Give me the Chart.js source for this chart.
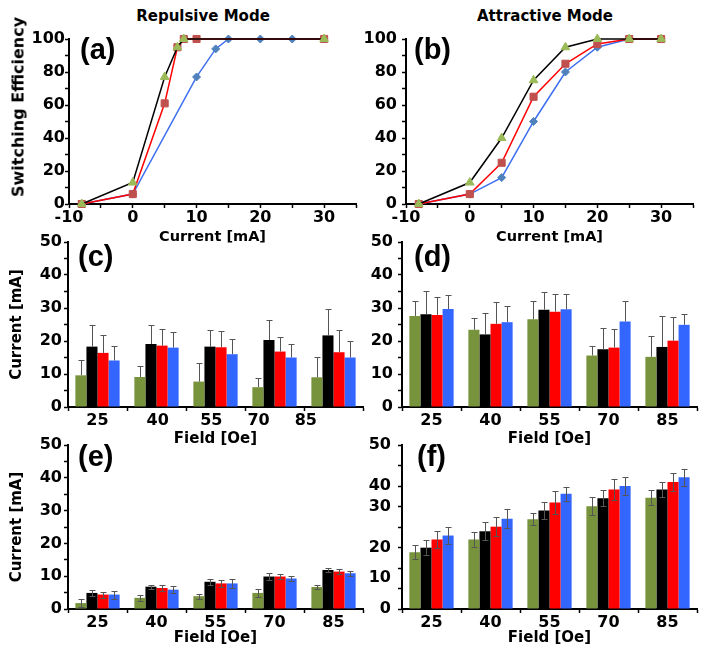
<!DOCTYPE html>
<html>
<head>
<meta charset="utf-8">
<script src="https://cdn.jsdelivr.net/npm/chart.js@4.4.1/dist/chart.umd.min.js"></script>
<style>
  body { margin: 0; background: #fff; width: 708px; height: 659px; position: relative; overflow: hidden; }
  canvas { position: absolute; }
  .hdr { position: absolute; font: bold 15px 'DejaVu Sans', sans-serif; line-height: 18px; transform: translateX(-50%); white-space: nowrap; color: #000; }
  .lbl { position: absolute; font: bold 29px 'Liberation Sans', Arial, sans-serif; line-height: 1; color: #000; }
  .vtitle { position: absolute; font: bold 16px 'DejaVu Sans', sans-serif; line-height: 19px; white-space: nowrap; color: #000;
            transform: translate(-50%, -50%) rotate(-90deg); }
</style>
</head>
<body>
<div class="hdr" style="left:203px; top:7px;">Repulsive Mode</div>
<div class="hdr" style="left:545px; top:7px;">Attractive Mode</div>

<canvas id="chartA" width="362" height="250" style="left:0; top:0;"></canvas>
<canvas id="chartB" width="354" height="250" style="left:354px; top:0;"></canvas>
<canvas id="chartC" width="366" height="230" style="left:0; top:222px;"></canvas>
<canvas id="chartD" width="354" height="230" style="left:354px; top:222px;"></canvas>
<canvas id="chartE" width="366" height="226" style="left:0; top:425px;"></canvas>
<canvas id="chartF" width="354" height="226" style="left:354px; top:425px;"></canvas>

<div class="vtitle" style="left:18px; top:107px;">Switching Efficiency</div>

<div class="lbl" style="left:80px; top:35px;">(a)</div>
<div class="lbl" style="left:414px; top:35px;">(b)</div>
<div class="lbl" style="left:78px; top:242px;">(c)</div>
<div class="lbl" style="left:414px; top:242px;">(d)</div>
<div class="lbl" style="left:78px; top:442px;">(e)</div>
<div class="lbl" style="left:417px; top:442px;">(f)</div>

<script>
// ---- (a) Repulsive mode: switching efficiency vs current
const aTriX = [-8, 0, 5, 7, 8, 30];
const aTriY = [0, 13, 77, 95, 100, 100];
const aSqX = [-8, 0, 5, 7, 8, 10, 30];
const aSqY = [0, 6, 61, 95, 100, 100, 100];
const aDiaX = [-8, 0, 10, 13, 15, 20, 25, 30];
const aDiaY = [0, 6, 77, 94, 100, 100, 100, 100];

// ---- (b) Attractive mode
const bX = [-8, 0, 5, 10, 15, 20, 25, 30];
const bTriY = [0, 13, 40, 75, 95, 100, 100, 100];
const bSqY = [0, 6, 25, 65, 85, 97, 100, 100];
const bDiaY = [0, 6, 16, 50, 80, 95, 100, 100];

// ---- bar panels, field categories
const fields = ['25', '40', '55', '70', '85'];

// (c)
const cGreen = [9.6, 9.1, 7.7, 6.0, 9.0];
const cGreenErr = [4.5, 3.3, 5.6, 2.9, 6.2];
const cBlack = [18.3, 19.1, 18.3, 20.3, 21.7];
const cBlackErr = [6.6, 5.6, 4.9, 6.1, 8.1];
const cRed = [16.4, 18.6, 18.1, 16.8, 16.6];
const cRedErr = [5.3, 5.0, 5.0, 4.5, 6.7];
const cBlue = [14.1, 18.0, 16.0, 15.0, 15.0];
const cBlueErr = [4.3, 4.8, 4.6, 4.2, 5.1];
// labels 70 and 85 sit left of their bars in the original
const cLabelShift = [0, 0.02, -0.07, -0.27, -0.47];

// (d)
const dGreen = [27.6, 23.4, 26.6, 15.6, 15.2];
const dGreenErr = [4.6, 3.6, 5.6, 3.0, 6.4];
const dBlack = [28.1, 22.0, 29.5, 17.5, 18.2];
const dBlackErr = [7.1, 6.6, 5.3, 6.3, 9.5];
const dRed = [27.9, 25.2, 28.9, 18.0, 20.1];
const dRedErr = [5.5, 6.5, 5.4, 5.5, 7.3];
const dBlue = [29.7, 25.7, 29.6, 25.9, 24.9];
const dBlueErr = [4.3, 5.0, 4.7, 6.3, 3.4];

// (e)
const eGreen = [1.8, 3.4, 3.9, 4.9, 6.7];
const eGreenErr = [1.1, 1.0, 0.8, 1.1, 0.7];
const eBlack = [4.9, 6.8, 8.3, 9.9, 11.9];
const eBlackErr = [1.0, 0.6, 0.9, 1.1, 0.7];
const eRed = [4.4, 6.4, 7.8, 9.9, 11.4];
const eRedErr = [0.9, 0.9, 1.1, 0.8, 0.8];
const eBlue = [4.4, 5.9, 7.8, 9.3, 10.9];
const eBlueErr = [1.2, 1.0, 1.3, 0.7, 0.7];

// (f)
const fGreen = [17.3, 21.2, 27.4, 31.3, 33.9];
const fGreenErr = [2.1, 2.2, 1.9, 2.7, 2.3];
const fBlack = [18.7, 23.7, 30.0, 33.8, 36.4];
const fBlackErr = [2.3, 2.7, 2.6, 2.5, 2.2];
const fRed = [21.2, 25.1, 32.5, 36.4, 38.7];
const fRedErr = [2.7, 2.9, 3.4, 3.1, 2.7];
const fBlue = [22.4, 27.5, 35.1, 37.5, 40.2];
const fBlueErr = [2.5, 2.9, 2.2, 2.6, 2.6];
// the (f) axis has 8 tick intervals and its labels are not evenly placed
const fTickMarks = [0, 6.25, 12.5, 18.75, 25, 31.25, 37.5, 43.75, 50];
const fLabelAt = [0, 9.6, 18.75, 31.25, 37.5, 50];
const fTickLabels = ['0', '10', '20', '30', '40', '50'];

const barColors = ['#77933c', '#000000', '#ff0000', '#3366ff'];

Chart.defaults.font.family = "'DejaVu Sans', sans-serif";
Chart.defaults.color = '#000';
Chart.defaults.animation = false;

const near = (a, b) => Math.abs(a - b) < 0.01;
const pts = (xs, ys) => xs.map((x, i) => ({ x: x, y: ys[i] }));

const errorBars = {
  id: 'errorBars',
  afterDatasetsDraw(chart) {
    const ctx = chart.ctx;
    const y = chart.scales.y;
    chart.data.datasets.forEach((ds, i) => {
      if (!ds.errors) return;
      chart.getDatasetMeta(i).data.forEach((bar, j) => {
        const v = ds.data[j], e = ds.errors[j];
        const x = Math.round(bar.x) + 0.5;
        const top = Math.round(y.getPixelForValue(v + e)) + 0.5;
        const bot = ds.errBoth ? Math.round(y.getPixelForValue(v - e)) + 0.5 : bar.y;
        ctx.save();
        ctx.strokeStyle = '#555';
        ctx.lineWidth = 1;
        ctx.beginPath();
        ctx.moveTo(x, top); ctx.lineTo(x, bot);
        ctx.moveTo(x - 3, top); ctx.lineTo(x + 3, top);
        if (ds.errBoth) { ctx.moveTo(x - 3, bot); ctx.lineTo(x + 3, bot); }
        ctx.stroke();
        ctx.restore();
      });
    });
  }
};

// draws category labels at shifted positions (panel c)
const shiftedLabels = {
  id: 'shiftedLabels',
  afterDraw(chart, args, opts) {
    if (!opts.shift) return;
    const sx = chart.scales.x, ctx = chart.ctx;
    const size = 16;
    const yy = sx.top + sx.options.grid.tickLength + sx.options.ticks.padding + size * 0.6;
    ctx.save();
    ctx.font = "bold " + size + "px 'DejaVu Sans'";
    ctx.fillStyle = '#000';
    ctx.textAlign = 'center';
    ctx.textBaseline = 'middle';
    chart.data.labels.forEach((lab, i) => {
      ctx.fillText(lab, sx.getPixelForValue(i + opts.shift[i]), yy);
    });
    ctx.restore();
  }
};

function axisBorder() { return { display: true, color: '#000', width: 2 }; }
function axisGrid(extra) {
  return Object.assign({ display: true, drawOnChartArea: false, drawTicks: true, tickLength: 4, tickColor: '#000', tickWidth: 1.5 }, extra || {});
}

function lineChart(id, series, cfg) {
  const datasets = series.map(s => ({
    data: pts(s.xs, s.ys),
    borderColor: s.line,
    borderWidth: 1.5,
    tension: 0,
    pointStyle: s.style,
    pointRadius: s.r,
    pointBackgroundColor: s.marker,
    pointBorderColor: s.marker,
    pointBorderWidth: 1,
    clip: false
  }));
  return new Chart(document.getElementById(id), {
    type: 'line',
    data: { datasets: datasets },
    options: {
      responsive: false,
      layout: { padding: { top: cfg.padTop, right: cfg.padRight, left: 0, bottom: 0 } },
      plugins: { legend: { display: false }, tooltip: { enabled: false } },
      scales: {
        x: {
          type: 'linear', min: -10, max: 35,
          afterFit: s => { s.height = cfg.xHeight; },
          border: axisBorder(), grid: axisGrid(),
          ticks: { stepSize: 5, padding: 0, autoSkip: false, maxRotation: 0, font: { size: 16, weight: 'bold' },
                   callback: v => (v % 10 === 0 ? String(v) : '') },
          title: { display: true, text: 'Current [mA]', font: { size: 14.5, weight: 'bold' }, padding: { top: 0, bottom: 4 } }
        },
        y: {
          min: 0, max: 100,
          afterFit: s => { s.width = cfg.yWidth; },
          border: axisBorder(), grid: axisGrid(),
          ticks: { stepSize: 10, padding: cfg.yPad, autoSkip: false, font: { size: 16, weight: 'bold' },
                   callback: v => (v % 20 === 0 ? String(v) : '') }
        }
      }
    }
  });
}

function barChart(id, values, errors, cfg) {
  const datasets = values.map((vals, k) => ({
    data: vals,
    errors: errors[k],
    errBoth: cfg.errBoth,
    backgroundColor: barColors[k],
    borderWidth: 0,
    barPercentage: 1,
    categoryPercentage: 0.75
  }));
  const yTicks = { padding: cfg.yPad, autoSkip: false, font: { size: 16, weight: 'bold' } };
  const y = {
    min: 0, max: 50,
    afterFit: s => { s.width = cfg.yWidth; },
    border: axisBorder(),
    grid: axisGrid(),
    ticks: yTicks,
    title: cfg.yTitle
      ? { display: true, text: cfg.yTitle, font: { size: 15, weight: 'bold' }, padding: { top: 8.5, bottom: 0 } }
      : { display: false }
  };
  if (cfg.oddTicks) {
    const all = fTickMarks.concat(fLabelAt.filter(v => !fTickMarks.some(t => near(t, v)))).sort((a, b) => a - b);
    y.afterBuildTicks = s => { s.ticks = all.map(v => ({ value: v })); };
    yTicks.callback = v => { const k = fLabelAt.findIndex(t => near(t, v)); return k >= 0 ? fTickLabels[k] : ''; };
    y.grid = axisGrid({ tickColor: c => (c.tick && fTickMarks.some(t => near(t, c.tick.value)) ? '#000' : 'rgba(0,0,0,0)') });
  } else {
    yTicks.stepSize = 5;
    yTicks.callback = v => (v % 10 === 0 ? String(v) : '');
  }
  return new Chart(document.getElementById(id), {
    type: 'bar',
    data: { labels: fields, datasets: datasets },
    options: {
      responsive: false,
      layout: { padding: { top: cfg.padTop, right: cfg.padRight, left: 0, bottom: 0 } },
      plugins: { legend: { display: false }, tooltip: { enabled: false }, shiftedLabels: { shift: cfg.shift || null } },
      scales: {
        x: {
          afterFit: s => { s.height = cfg.xHeight; },
          border: axisBorder(),
          grid: axisGrid({ offset: true }),
          ticks: { padding: 0, autoSkip: false, maxRotation: 0, font: { size: 16, weight: 'bold' },
                   color: cfg.shift ? 'rgba(0,0,0,0)' : '#000' },
          title: { display: true, text: 'Field [Oe]', font: { size: 15, weight: 'bold' }, padding: { top: 0, bottom: 4 } }
        },
        y: y
      }
    },
    plugins: [errorBars, shiftedLabels]
  });
}

lineChart('chartA', [
  { xs: aTriX, ys: aTriY, line: '#000000', marker: '#9bbb59', style: 'triangle', r: 5 },
  { xs: aSqX, ys: aSqY, line: '#ff0000', marker: '#c0504d', style: 'rect', r: 5 },
  { xs: aDiaX, ys: aDiaY, line: '#3d6ff0', marker: '#4f81bd', style: 'rectRot', r: 4 }
], { padTop: 39, padRight: 3, xHeight: 46, yWidth: 69, yPad: 0 });

lineChart('chartB', [
  { xs: bX, ys: bTriY, line: '#000000', marker: '#9bbb59', style: 'triangle', r: 5 },
  { xs: bX, ys: bSqY, line: '#ff0000', marker: '#c0504d', style: 'rect', r: 5 },
  { xs: bX, ys: bDiaY, line: '#3d6ff0', marker: '#4f81bd', style: 'rectRot', r: 4 }
], { padTop: 39, padRight: 15, xHeight: 46, yWidth: 52, yPad: 5 });

barChart('chartC', [cGreen, cBlack, cRed, cBlue], [cGreenErr, cBlackErr, cRedErr, cBlueErr],
  { padTop: 20, padRight: 3, xHeight: 45, yWidth: 68, yPad: 2, yTitle: 'Current [mA]', errBoth: false, shift: cLabelShift });

barChart('chartD', [dGreen, dBlack, dRed, dBlue], [dGreenErr, dBlackErr, dRedErr, dBlueErr],
  { padTop: 20, padRight: 11, xHeight: 45, yWidth: 48, yPad: 5, yTitle: null, errBoth: false });

barChart('chartE', [eGreen, eBlack, eRed, eBlue], [eGreenErr, eBlackErr, eRedErr, eBlueErr],
  { padTop: 20, padRight: 3, xHeight: 42, yWidth: 68, yPad: 2, yTitle: 'Current [mA]', errBoth: true });

barChart('chartF', [fGreen, fBlack, fRed, fBlue], [fGreenErr, fBlackErr, fRedErr, fBlueErr],
  { padTop: 20, padRight: 11, xHeight: 42, yWidth: 48, yPad: 7, yTitle: null, errBoth: true, oddTicks: true });
</script>
</body>
</html>
